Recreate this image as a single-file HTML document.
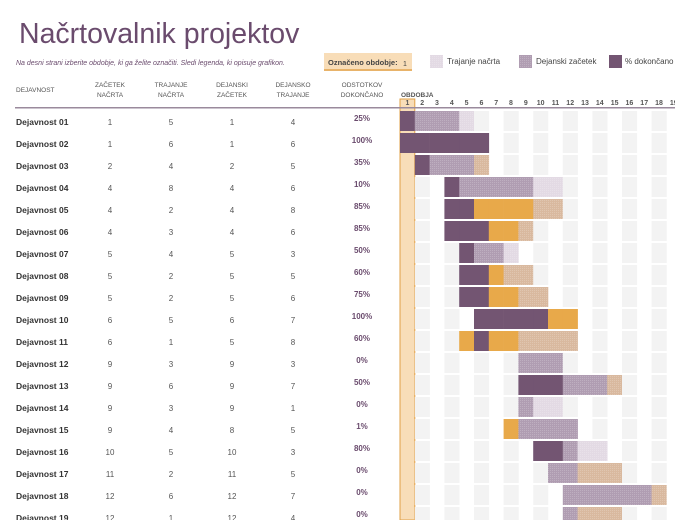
<!DOCTYPE html>
<html><head><meta charset="utf-8">
<style>
body{margin:0;width:675px;height:520px;overflow:hidden;background:#fff;font-family:"Liberation Sans",sans-serif;}
svg text{font-family:"Liberation Sans",sans-serif;}
</style></head>
<body>
<svg id="c" width="675" height="520">
<defs>
<pattern id="dot" width="2" height="2" patternUnits="userSpaceOnUse"><rect width="1" height="1" fill="#ffffff" opacity="0.18"/></pattern>
</defs>
<text x="19" y="43" font-size="28.5" fill="#6a4b6d">Načrtovalnik projektov</text>
<text x="16" y="65" font-size="7" font-style="italic" fill="#6a4b6d">Na desni strani izberite obdobje, ki ga želite označiti.  Sledi legenda, ki opisuje grafikon.</text>
<g>
<rect x="324" y="53" width="88" height="18" fill="#f8ddb8"/>
<rect x="324" y="69" width="88" height="2" fill="#e8b36a"/>
<text x="328" y="65" font-size="7.5" font-weight="bold" fill="#444">Označeno obdobje:</text>
<text x="405" y="66" font-size="7" fill="#444" text-anchor="middle">1</text>
</g>
<g>
<rect x="430" y="55" width="13" height="13" fill="#e3dae4"/>
<rect x="430" y="55" width="13" height="13" fill="url(#dot)"/>
<text x="447" y="64" font-size="8" fill="#444">Trajanje načrta</text>
<rect x="519" y="55" width="13" height="13" fill="#b09db2"/>
<rect x="519" y="55" width="13" height="13" fill="url(#dot)"/>
<text x="536" y="64" font-size="8" fill="#444">Dejanski začetek</text>
<rect x="609" y="55" width="13" height="13" fill="#735572"/>
<text x="625" y="64" font-size="8" fill="#444">% dokončano</text>
</g>
<g font-size="6.5" fill="#555" text-anchor="middle">
<text x="16" y="92" text-anchor="start">DEJAVNOST</text>
<text x="110" y="87">ZAČETEK</text><text x="110" y="97">NAČRTA</text>
<text x="171" y="87">TRAJANJE</text><text x="171" y="97">NAČRTA</text>
<text x="232" y="87">DEJANSKI</text><text x="232" y="97">ZAČETEK</text>
<text x="293" y="87">DEJANSKO</text><text x="293" y="97">TRAJANJE</text>
<text x="362" y="87">ODSTOTKOV</text><text x="362" y="97">DOKONČANO</text>
<text x="401" y="97" text-anchor="start" font-weight="bold">OBDOBJA</text>
</g>
<g id="grid"></g>
<rect x="15" y="107" width="660" height="1.5" fill="#9a8a9c"/>
</svg>
<script>
const names=["Dejavnost 01","Dejavnost 02","Dejavnost 03","Dejavnost 04","Dejavnost 05","Dejavnost 06","Dejavnost 07","Dejavnost 08","Dejavnost 09","Dejavnost 10","Dejavnost 11","Dejavnost 12","Dejavnost 13","Dejavnost 14","Dejavnost 15","Dejavnost 16","Dejavnost 17","Dejavnost 18","Dejavnost 19"];
const planStart=[1,1,2,4,4,4,5,5,5,6,6,9,9,9,9,10,11,12,12];
const planDur=[5,6,4,8,2,3,4,2,2,5,1,3,6,3,4,5,2,6,1];
const actStart=[1,1,2,4,4,4,5,5,5,6,5,9,9,9,8,10,11,12,12];
const actDur=[4,6,5,6,8,6,3,5,6,7,8,3,7,1,5,3,5,7,4];
const pct=[25,100,35,10,85,85,50,60,75,100,60,0,50,0,1,80,0,0,0];
const periods=[1,2,3,4,5,6,7,8,9,10,11,12,13,14,15,16,17,18,19];
const highlight=1;
const NS="http://www.w3.org/2000/svg";
const g=document.getElementById('grid');
const x0=400,cw=14.8,y0=111,rh=22,bh=20;
const px=p=>x0+(p-1)*cw;
const ry=i=>y0+i*rh;
function mk(tag,attrs,parent){const e=document.createElementNS(NS,tag);for(const k in attrs)e.setAttribute(k,attrs[k]);(parent||g).appendChild(e);return e;}
const hl=mk('rect',{x:px(highlight),y:99,width:cw,height:421,fill:'#f8ddb8',stroke:'#e0a046','stroke-width':1});


periods.forEach(p=>{
  const t=mk('text',{x:px(p)+cw/2,y:105,'font-size':7,'font-weight':'bold',fill:'#555','text-anchor':'middle'});
  t.textContent=p;
  
  
});
names.forEach((n,i)=>{
  const y=ry(i),cy=y+bh/2+4;
  const t=mk('text',{x:16,y:cy,'font-size':8.5,'font-weight':'bold',fill:'#333'});t.textContent=n;
  
  
  [[110,planStart[i]],[171,planDur[i]],[232,actStart[i]],[293,actDur[i]]].forEach(([x,v])=>{
    const u=mk('text',{x:x,y:cy,'font-size':8,fill:'#555','text-anchor':'middle'});u.textContent=v;
    
    
  });
  const pc=mk('text',{x:362,y:cy-4,'font-size':8,'font-weight':'bold',fill:'#6a4b6d','text-anchor':'middle'});pc.textContent=pct[i]+'%';
  
  
  let cnt=Math.floor(pct[i]/100*actDur[i]+1e-9);
  if(cnt===0&&pct[i]>=10)cnt=1;
  periods.forEach(p=>{
    const inPlan=p>=planStart[i]&&p<planStart[i]+planDur[i];
    const inAct=p>=actStart[i]&&p<actStart[i]+actDur[i];
    const done=p>=actStart[i]&&p<actStart[i]+cnt;
    let fill=null,dot=false,name='cell';
    if(done){fill=inPlan?'#735572':'#e8a94a';name=inPlan?'complete-bar':'complete-beyond-bar';}
    else if(inAct){if(inPlan){fill='#b09db2';dot=true;name='actual-bar';}else if(p<planStart[i]){fill='#e8a94a';name='actual-early-bar';}else{fill='#d9b99f';dot=true;name='actual-beyond-bar';}}
    else if(inPlan){fill='#e3dae4';dot=true;name='plan-bar';}
    else if(p===highlight){return;}
    else if(p%2===0){fill='#f3f3f3';name='grid-cell';}
    if(!fill)return;
    const r=mk('rect',{x:px(p),y:y,width:cw+0.3,height:bh,fill:fill});
    
    
    if(dot)mk('rect',{x:px(p),y:y,width:cw+0.3,height:bh,fill:'url(#dot)'});
  });
});
</script>
</body></html>
